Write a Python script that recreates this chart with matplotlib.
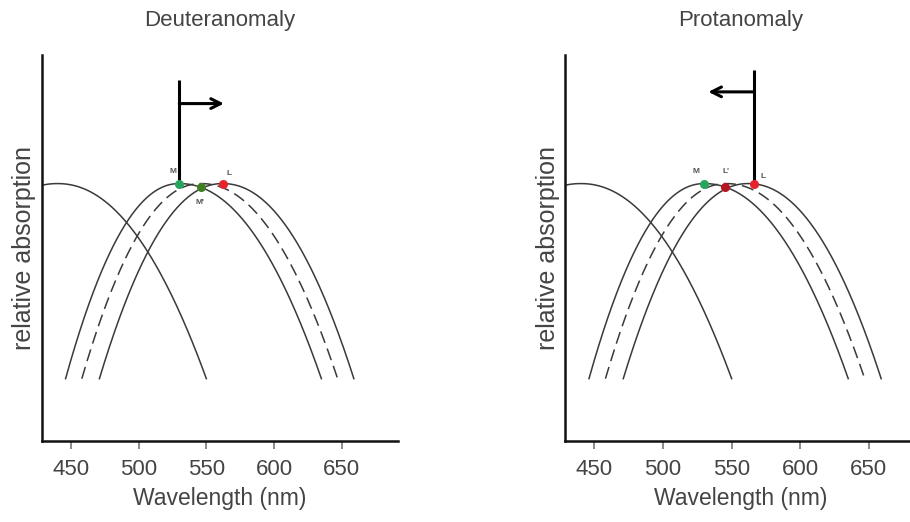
import numpy as np
import matplotlib.pyplot as plt
from matplotlib.patches import FancyArrowPatch

plt.rcParams['font.family'] = ['Liberation Sans', 'DejaVu Sans']

# cone curves: (start, peak, end) wavelength in nm, same in both panels
s_cone = (330, 440, 550)
m_cone = (446, 530, 635)
mid_cone = (458, 546, 647)   # anomalous pigment (dashed)
l_cone = (471, 562, 659)

# dots along the top: wavelength, label, colour
deut_dots = [(530, 'M', '#27a55f'), (546, "M'", '#3f7f24'), (562, 'L', '#e8222c')]
prot_dots = [(530, 'M', '#27a55f'), (545, "L'", '#b5161f'), (566, 'L', '#e8222c')]

# shift arrows: x of the stem, y of the stem top, y of the arrow, x of the arrow tip
deut_arrow = (530, 1.53, 1.41, 563)
prot_arrow = (566, 1.58, 1.47, 533)

curve_color = '#3a3a3a'
text_color = '#444444'


def absorption(wl, start, peak, end, p=2.1):
    w = np.where(wl < peak, peak - start, end - peak)
    return 1 - np.abs((wl - peak) / w) ** p


def draw_curve(ax, cone, **kw):
    wl = np.linspace(cone[0], cone[2], 400)
    ax.plot(wl, absorption(wl, *cone), color=curve_color, lw=1.1, **kw)


def peak_y(wl):
    # dots sit on whichever normal curve is highest at that wavelength
    return max(absorption(np.array(wl), *c) for c in (m_cone, l_cone))


def panel(rect, title, dots, arrow, xlim_right, label_offsets):
    ax = fig.add_axes(rect)
    draw_curve(ax, s_cone)
    draw_curve(ax, m_cone)
    draw_curve(ax, mid_cone, ls=(0, (8, 4)))
    draw_curve(ax, l_cone)

    x0, ytop, yarr, xtip = arrow
    ax.plot([x0, x0], [peak_y(x0), ytop], color='black', lw=2.2, solid_capstyle='butt')
    ax.add_patch(FancyArrowPatch((x0, yarr), (xtip, yarr), arrowstyle='->,head_length=7,head_width=3.5',
                                 color='black', lw=2.2, mutation_scale=1, shrinkA=0, shrinkB=0))

    for (wl, lab, col), (dx, dy) in zip(dots, label_offsets):
        y = peak_y(wl)
        ax.plot(wl, y, 'o', color=col, ms=6.5, zorder=5, mec='none')
        ax.text(wl + dx, y + dy, lab, fontsize=6, color='#555555', fontweight='bold',
                ha='center', va='center')

    ax.set_xlim(428.6, xlim_right)
    ax.set_ylim(-0.32, 1.66)
    ax.set_xticks([450, 500, 550, 600, 650])
    ax.set_yticks([])
    ax.tick_params(axis='x', length=6, width=1.2, colors='#777777', labelcolor=text_color,
                   labelsize=16, pad=7)
    for side in ('top', 'right'):
        ax.spines[side].set_visible(False)
    for side in ('left', 'bottom'):
        ax.spines[side].set_linewidth(1.8)
        ax.spines[side].set_color('#111111')
    ax.set_xlabel('Wavelength (nm)', fontsize=16.5, color=text_color, labelpad=5)
    ax.set_ylabel('relative absorption', fontsize=18, color=text_color, labelpad=4)
    ax.set_title(title, fontsize=16, color=text_color, pad=21)
    return ax


fig = plt.figure(figsize=(9.1, 5.22), dpi=100)
panel([0.0462, 0.155, 0.391, 0.74], 'Deuteranomaly', deut_dots, deut_arrow, 691.5,
      [(-5, 0.06), (-1, -0.08), (5, 0.05)])
panel([0.621, 0.155, 0.385, 0.74], 'Protanomaly', prot_dots, prot_arrow, 684,
      [(-6, 0.06), (1, 0.08), (7, 0.04)])

fig.savefig('out.png', dpi=100)
